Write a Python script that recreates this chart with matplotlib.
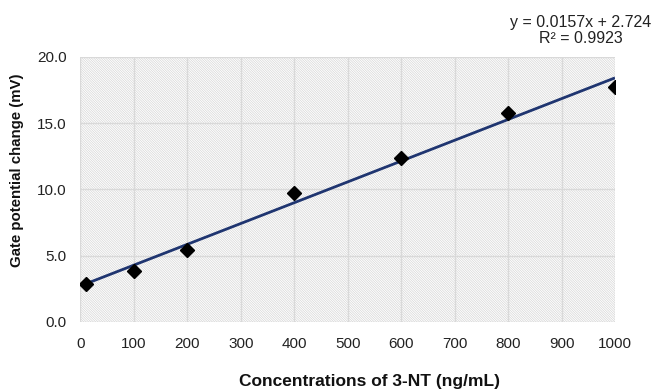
import matplotlib
matplotlib.use("Agg")
import matplotlib.pyplot as plt
from matplotlib.patches import Rectangle
import numpy as np

# data
conc = [10, 100, 200, 400, 600, 800, 1000]
gate_change = [2.87, 3.85, 5.4, 9.75, 12.4, 15.75, 17.75]
fit_slope = 0.0157
fit_intercept = 2.724
r_squared = 0.9923

x_ticks = [0, 100, 200, 300, 400, 500, 600, 700, 800, 900, 1000]
y_ticks = [0.0, 5.0, 10.0, 15.0, 20.0]

plt.rcParams["font.family"] = ["Liberation Sans", "DejaVu Sans"]
plt.rcParams["hatch.linewidth"] = 0.5

fig = plt.figure(figsize=(6.57, 3.92), dpi=100)
ax = fig.add_axes([0.1225, 0.1786, 0.8135, 0.676])

# hatched plot area (fine diagonal stripes)
bg = Rectangle((0, 0), 1, 1, transform=ax.transAxes, facecolor="white",
               edgecolor="#d6d6d6", linewidth=0, hatch="\\" * 14, zorder=0)
ax.add_patch(bg)

ax.set_xlim(0, 1000)
ax.set_ylim(0, 20)
ax.set_xticks(x_ticks)
ax.set_yticks(y_ticks)
ax.set_yticklabels([f"{v:.1f}" for v in y_ticks])
ax.tick_params(length=0, labelsize=11, colors="#222222")
ax.tick_params(axis="x", pad=11)
ax.tick_params(axis="y", pad=10)
ax.grid(True, color="#d9d9d9", linewidth=1.0, zorder=1)
ax.set_axisbelow(True)
for s in ax.spines.values():
    s.set_visible(False)

fit_x = np.array([conc[0], conc[-1]])
ax.plot(fit_x, fit_slope * fit_x + fit_intercept, color="#1f3570",
        linewidth=2.0, zorder=3, solid_capstyle="butt")
ax.plot(conc, gate_change, linestyle="none", marker="D", markersize=7,
        color="black", zorder=4)

# axis titles placed like the Excel original
ax.text(0.54, -0.226, "Concentrations of 3-NT (ng/mL)", transform=ax.transAxes,
        ha="center", va="center", fontsize=12.5, fontweight="bold", color="#111111")
ax.text(-0.119, 0.574, "Gate potential change (mV)", transform=ax.transAxes,
        ha="center", va="center", rotation=90, fontsize=10.8, fontweight="bold",
        color="#111111")

fig.text(0.884, 0.942, f"y = {fit_slope}x + {fit_intercept}", ha="center",
         va="center", fontsize=11.5, color="#222222")
fig.text(0.884, 0.901, f"R² = {r_squared}", ha="center", va="center",
         fontsize=11.5, color="#222222")

fig.savefig("out.png", dpi=100)
